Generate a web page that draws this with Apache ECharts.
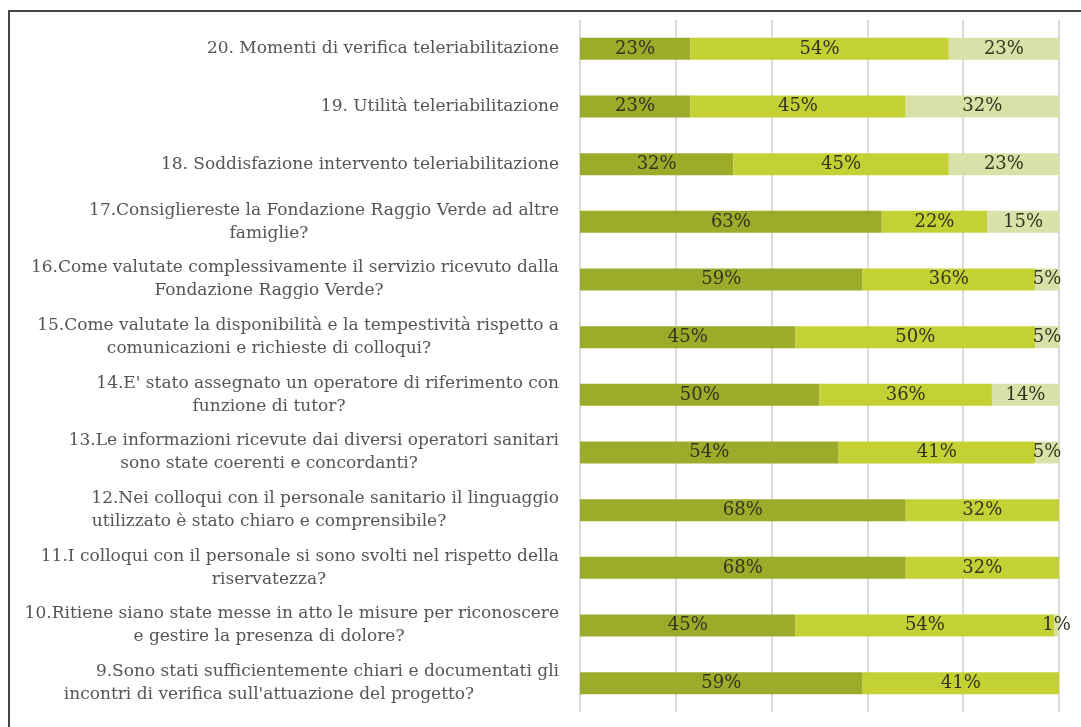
<!DOCTYPE html>
<html>
<head>
<meta charset="utf-8">
<script src="https://cdn.jsdelivr.net/npm/echarts@6/dist/echarts.min.js"></script>
<style>
  html, body { margin: 0; padding: 0; background: #fff; }
  #chart { width: 1081px; height: 727px; }
  #frame { position: absolute; left: 8px; top: 10px; right: -4px; bottom: -4px;
           border-left: 2px solid #444; border-top: 2px solid #444; pointer-events: none; }
</style>
</head>
<body>
<div id="chart"></div>
<div id="frame"></div>
<script>
const categories = [
  "20. Momenti di verifica teleriabilitazione",
  "19. Utilità teleriabilitazione",
  "18. Soddisfazione intervento teleriabilitazione",
  "17.Consigliereste la Fondazione Raggio Verde ad altre\nfamiglie?",
  "16.Come valutate complessivamente il servizio ricevuto dalla\nFondazione Raggio Verde?",
  "15.Come valutate la disponibilità e la tempestività rispetto a\ncomunicazioni e richieste di colloqui?",
  "14.E' stato assegnato un operatore di riferimento con\nfunzione di tutor?",
  "13.Le informazioni ricevute dai diversi operatori sanitari\nsono state coerenti e concordanti?",
  "12.Nei colloqui con il personale sanitario il linguaggio\nutilizzato è stato chiaro e comprensibile?",
  "11.I colloqui con il personale si sono svolti nel rispetto della\nriservatezza?",
  "10.Ritiene siano state messe in atto le misure per riconoscere\ne gestire la presenza di dolore?",
  "9.Sono stati sufficientemente chiari e documentati gli\nincontri di verifica sull'attuazione del progetto?"
];
const seriesA = [23, 23, 32, 63, 59, 45, 50, 54, 68, 68, 45, 59];
const seriesB = [54, 45, 45, 22, 36, 50, 36, 41, 32, 32, 54, 41];
const seriesC = [23, 32, 23, 15, 5, 5, 14, 5, 0, 0, 1, 0];
const xTicks = [0, 20, 40, 60, 80, 100];

const colors = ['#9cab2a', '#c4d135', '#d9e1a8'];
const fontFamily = '"DejaVu Serif", serif';

const chart = echarts.init(document.getElementById('chart'));

function makeSeries(name, data, color) {
  return {
    name: name,
    type: 'bar',
    stack: 'total',
    data: data,
    barWidth: 22,
    itemStyle: { color: color },
    label: {
      show: true,
      position: 'inside',
      color: '#33331f',
      fontFamily: fontFamily,
      fontSize: 18,
      formatter: p => (p.value > 0 ? p.value + '%' : '')
    },
    emphasis: { disabled: true }
  };
}

chart.setOption({
  animation: false,
  grid: { left: 580, right: 22, top: 20, bottom: 15, containLabel: false, outerBoundsMode: 'none' },
  xAxis: {
    type: 'value',
    min: xTicks[0],
    max: xTicks[xTicks.length - 1],
    interval: xTicks[1] - xTicks[0],
    axisLabel: { show: false },
    axisLine: { show: false },
    axisTick: { show: false },
    splitLine: { show: true, lineStyle: { color: '#dadada', width: 2 } }
  },
  yAxis: {
    type: 'category',
    inverse: true,
    data: categories,
    axisLine: { show: false },
    axisTick: { show: false },
    axisLabel: {
      margin: 21,
      align: 'right',
      color: '#555',
      fontFamily: fontFamily,
      fontSize: 17,
      lineHeight: 23,
      formatter: function (v) {
        const parts = v.split('\n');
        if (parts.length === 1) return v;
        return parts[0] + '\n{c|' + parts[1] + '}';
      },
      rich: {
        c: {
          width: 580,
          align: 'center',
          color: '#555',
          fontFamily: fontFamily,
          fontSize: 17,
          lineHeight: 23
        }
      }
    }
  },
  series: [
    makeSeries('A', seriesA, colors[0]),
    makeSeries('B', seriesB, colors[1]),
    makeSeries('C', seriesC, colors[2])
  ]
});
</script>
</body>
</html>
